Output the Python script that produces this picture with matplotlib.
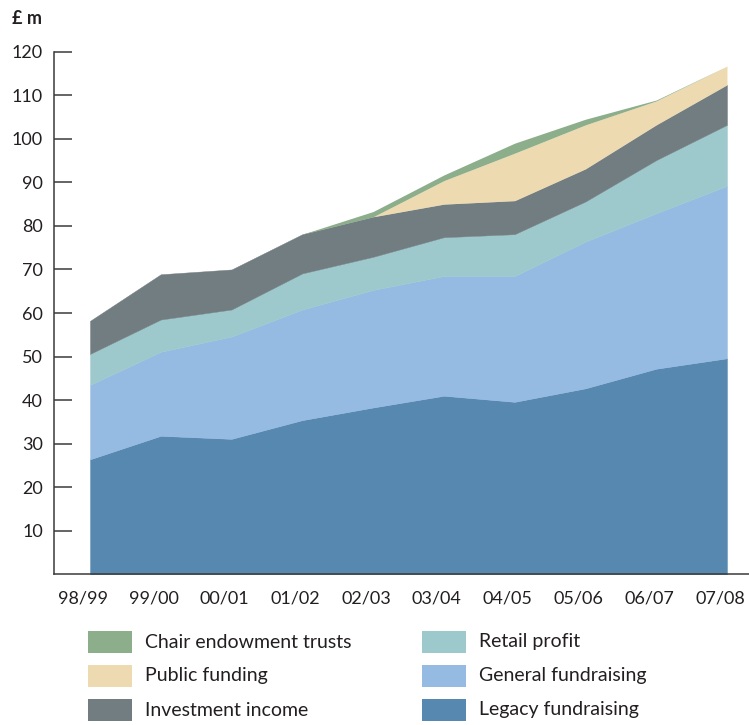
import numpy as np
import matplotlib
matplotlib.use('Agg')
import matplotlib.pyplot as plt
import matplotlib.transforms as mtransforms
from matplotlib.patches import Rectangle

plt.rcParams['font.family'] = ['Lato', 'DejaVu Sans']

years = ['98/99', '99/00', '00/01', '01/02', '02/03', '03/04', '04/05', '05/06', '06/07', '07/08']

# £ m per year, stacked bottom to top
legacy      = [26.4, 31.8, 31.1, 35.4, 38.3, 41.0, 39.6, 42.7, 47.2, 49.6]
general     = [17.1, 19.3, 23.5, 25.4, 27.0, 27.5, 28.9, 33.7, 35.7, 39.6]
retail      = [7.1, 7.4, 6.2, 8.3, 7.6, 8.9, 9.6, 9.2, 12.2, 14.0]
investment  = [7.6, 10.4, 9.2, 9.0, 9.2, 7.6, 7.7, 7.5, 8.1, 9.2]
public      = [0.0, 0.0, 0.0, 0.0, 0.0, 5.4, 10.9, 10.1, 5.5, 4.3]
chair       = [0.0, 0.0, 0.0, 0.0, 1.2, 1.3, 2.3, 1.3, 0.2, 0.0]

labels = ['Legacy fundraising', 'General fundraising', 'Retail profit',
          'Investment income', 'Public funding', 'Chair endowment trusts']
colors = ['#5788B0', '#96BBE2', '#9EC9CC', '#727D81', '#EEDAB0', '#8CAE8A']

TXT = '#231F20'
AX  = '#3a3a3a'

W, H = 749, 725
fig = plt.figure(figsize=(W / 100, H / 100), dpi=100)

def px(x, y):
    return x / W, 1 - y / H

ax_left, ax_right = 54, 749
ax_top, ax_bot = 51.7, 574.3
ax = fig.add_axes([ax_left / W, 1 - ax_bot / H, (ax_right - ax_left) / W, (ax_bot - ax_top) / H])

x = np.arange(len(years))
polys = ax.stackplot(x, legacy, general, retail, investment, public, chair,
                     colors=colors, linewidth=0.3)
for k, (p, c) in enumerate(zip(polys, colors)):
    p.set_edgecolor(c)
    if k >= 4:   # thin layers that drop to zero: no outline
        p.set_linewidth(0)

step = (727 - 90) / 9
ax.set_xlim(-(90 - ax_left) / step, 9 + (ax_right - 727) / step)
ax.set_ylim(0, 120)

for s in ['top', 'right']:
    ax.spines[s].set_visible(False)
for s in ['left', 'bottom']:
    ax.spines[s].set_color(AX)
    ax.spines[s].set_linewidth(1.1)

ax.set_yticks(range(10, 130, 10))
ax.tick_params(axis='y', direction='in', length=13, width=1.1, color=AX,
               pad=8, labelsize=13, labelcolor=TXT)
ax.set_xticks(x)
ax.set_xticklabels(years)
ax.tick_params(axis='x', length=0, pad=12, labelsize=13, labelcolor=TXT)
shift = mtransforms.ScaledTranslation(-7 / 100, 0, fig.dpi_scale_trans)
for lab in ax.get_xticklabels():
    lab.set_transform(lab.get_transform() + shift)

fig.text(*px(12, 18), '£ m', fontsize=13, fontweight='bold', color=TXT,
         ha='left', va='center')

# legend, drawn by hand in two columns
order = [(5, 88, 631), (4, 88, 665), (3, 88, 699),
         (2, 422, 631), (1, 422, 665), (0, 422, 699)]
for i, lx, ly in order:
    fig.add_artist(Rectangle(px(lx, ly + 22), 44 / W, 22 / H,
                             transform=fig.transFigure, facecolor=colors[i],
                             edgecolor='none'))
    fig.text(*px(lx + 57, ly + 11), labels[i], fontsize=14, color=TXT,
             ha='left', va='center')

fig.savefig('out.png', dpi=100)
